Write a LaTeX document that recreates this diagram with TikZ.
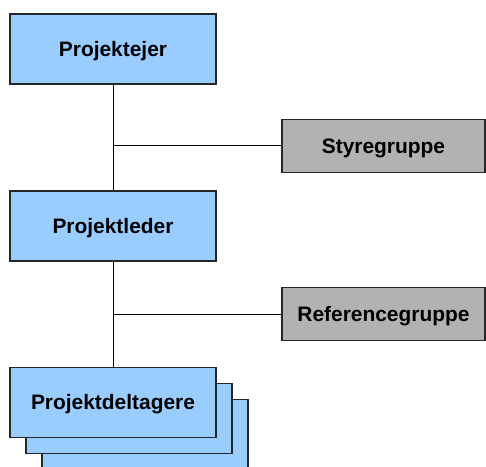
\documentclass[tikz,border=0pt]{standalone}
\usepackage{fontspec}
\setmainfont{Liberation Sans}
\definecolor{boxblue}{HTML}{99CCFF}
\definecolor{boxgray}{HTML}{B2B2B2}
\begin{document}
\begin{tikzpicture}[x=1bp,y=-1bp,
  boxtext/.style={inner sep=0pt,text depth=0pt,font=\bfseries\fontsize{21}{24}\selectfont},
  bluebox/.style={boxtext,draw=black!85,line width=1.1bp,fill=boxblue,minimum width=206bp,minimum height=70bp},
  graybox/.style={boxtext,draw=black!85,line width=1.1bp,fill=boxgray,minimum width=203bp,minimum height=53bp},
  conn/.style={draw=black,line width=1bp}]
\useasboundingbox (0,0) rectangle (486,467);
\clip (0,0) rectangle (486,467);
\node[bluebox] (pe) at (113,49) {Projektejer};
\node[bluebox] (pl) at (113,226) {Projektleder};
\node[graybox] (sg) at (383.5,146) {Styregruppe};
\node[graybox] (rg) at (383.5,314) {Referencegruppe};
\node[bluebox] (pd3) at (145,434.3) {};
\node[bluebox] (pd2) at (129,418.3) {};
\node[bluebox] (pd) at (113,402.3) {Projektdeltagere};
\draw[conn] (pe.south) -- (pl.north);
\draw[conn] (pe.south |- sg.west) -- (sg.west);
\draw[conn] (pl.south) -- (pd.north);
\draw[conn] (pl.south |- rg.west) -- (rg.west);
\end{tikzpicture}
\end{document}
